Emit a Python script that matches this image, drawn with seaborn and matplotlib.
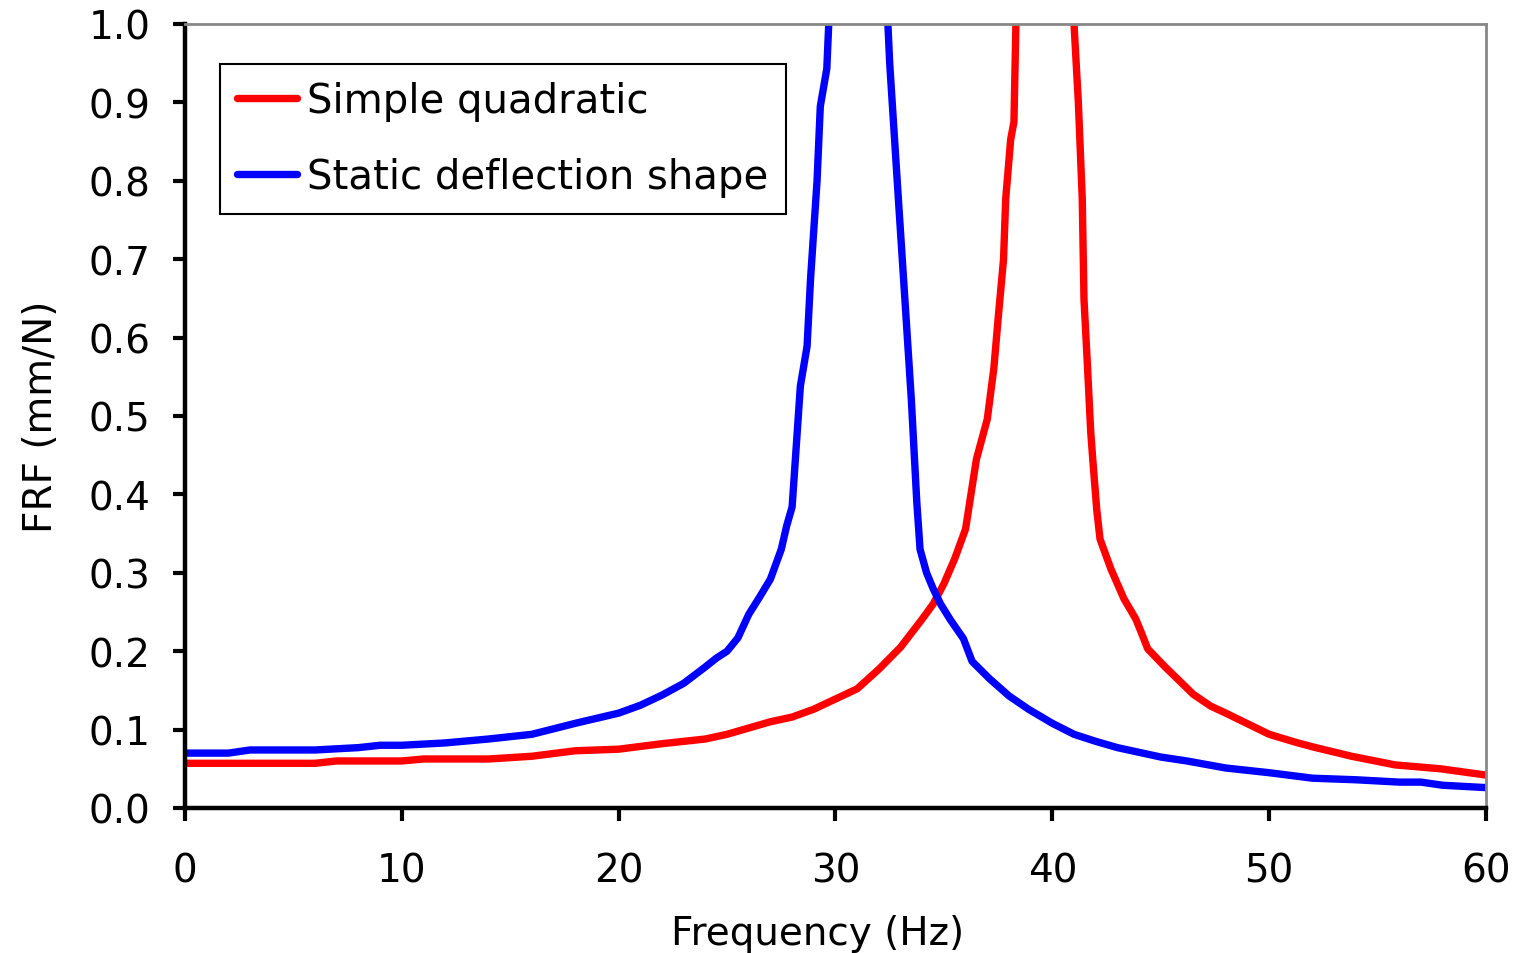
import pandas as pd
import matplotlib
matplotlib.use("Agg")
import matplotlib.pyplot as plt
import seaborn as sns

# Simple quadratic FRF
freq_quad = [0, 6, 7, 10, 11, 14, 16, 18, 20, 22, 24, 25, 26, 27, 28, 29, 30, 31, 32, 33,
             34, 34.5, 35, 35.5, 36, 36.5, 37, 37.3, 37.5, 37.75, 37.85, 38.08, 38.23, 38.5,
             39, 39.5, 40, 40.5, 41, 41.2, 41.38, 41.46, 41.62, 41.77, 41.9, 42.05, 42.2,
             42.7, 43.3, 43.85, 44.1, 44.4, 45.2, 46.5, 47.3, 48, 50, 51.2, 52, 53.8, 55.8,
             57.9, 60]
frf_quad = [0.057, 0.057, 0.060, 0.060, 0.0625, 0.0625, 0.066, 0.073, 0.075, 0.082, 0.088,
            0.094, 0.102, 0.110, 0.116, 0.126, 0.139, 0.152, 0.177, 0.205, 0.241, 0.26,
            0.286, 0.318, 0.356, 0.445, 0.496, 0.56, 0.624, 0.70, 0.777, 0.853, 0.875, 1.25,
            2.5, 5.0, 3.0, 2.0, 1.0, 0.90, 0.777, 0.649, 0.564, 0.48, 0.432, 0.38, 0.343,
            0.305, 0.267, 0.241, 0.224, 0.203, 0.18, 0.145, 0.130, 0.121, 0.094, 0.084,
            0.078, 0.066, 0.055, 0.050, 0.042]

# Static deflection shape FRF
freq_static = [0, 2, 3, 6, 8, 9, 10, 12, 14, 16, 18, 20, 21, 22, 23, 24, 24.5, 25, 25.5, 26,
               26.5, 27, 27.5, 27.75, 28, 28.38, 28.69, 28.85, 29.15, 29.3, 29.6, 30, 31, 32,
               32.5, 32.9, 33.2, 33.5, 33.75, 33.9, 34.2, 34.5, 34.85, 35.3, 35.9, 36.3, 37.1,
               38, 38.9, 40, 41, 42, 43, 45, 46.2, 48, 50, 52, 54, 56, 57, 58, 60]
frf_static = [0.070, 0.070, 0.074, 0.074, 0.077, 0.080, 0.080, 0.083, 0.088, 0.094, 0.108,
              0.121, 0.131, 0.144, 0.159, 0.180, 0.191, 0.200, 0.217, 0.247, 0.269, 0.292,
              0.33, 0.36, 0.384, 0.538, 0.589, 0.675, 0.80, 0.895, 0.943, 1.2, 3.0, 1.25,
              0.95, 0.777, 0.649, 0.52, 0.39, 0.33, 0.30, 0.28, 0.26, 0.24, 0.216, 0.187,
              0.165, 0.143, 0.126, 0.108, 0.094, 0.085, 0.077, 0.065, 0.060, 0.051, 0.045,
              0.038, 0.036, 0.033, 0.033, 0.029, 0.026]

series_names = ["Simple quadratic", "Static deflection shape"]
series_colors = ["#ff0000", "#0000ff"]

x_ticks = [0, 10, 20, 30, 40, 50, 60]
y_ticks = [0.0, 0.1, 0.2, 0.3, 0.4, 0.5, 0.6, 0.7, 0.8, 0.9, 1.0]

df = pd.concat([
    pd.DataFrame({"freq": freq_quad, "frf": frf_quad, "model": series_names[0]}),
    pd.DataFrame({"freq": freq_static, "frf": frf_static, "model": series_names[1]}),
], ignore_index=True)

sns.set_style("ticks")
plt.rcParams["font.family"] = ["DejaVu Sans"]
plt.rcParams["text.color"] = "black"
plt.rcParams["axes.labelcolor"] = "black"
plt.rcParams["xtick.color"] = "black"
plt.rcParams["ytick.color"] = "black"

FS = 28

fig = plt.figure(figsize=(15.21, 9.54), dpi=100)
ax = fig.add_axes([0.1216, 0.152, 0.8554, 0.8218])

sns.lineplot(data=df, x="freq", y="frf", hue="model", hue_order=series_names,
             palette=dict(zip(series_names, series_colors)), estimator=None,
             linewidth=5.3, ax=ax)

ax.set_xlim(0, 60)
ax.set_ylim(0, 1.0)
ax.set_xticks(x_ticks)
ax.set_yticks(y_ticks)
ax.set_yticklabels([f"{v:.1f}" for v in y_ticks])

ax.set_xlabel("Frequency (Hz)", fontsize=FS, labelpad=18)
ax.set_ylabel("FRF (mm/N)", fontsize=FS, labelpad=20)
ax.xaxis.label.set_x(0.486)

ax.tick_params(axis="both", direction="out", length=9, width=3, labelsize=FS,
               color="black", labelcolor="black")
ax.tick_params(axis="x", pad=22)
ax.tick_params(axis="y", pad=16)

for side in ["left", "bottom"]:
    ax.spines[side].set_color("black")
    ax.spines[side].set_linewidth(3.2)
for side in ["top", "right"]:
    ax.spines[side].set_visible(True)
    ax.spines[side].set_color("#888888")
    ax.spines[side].set_linewidth(2)

leg = ax.legend(loc="upper left", bbox_to_anchor=(0.027, 0.949), borderaxespad=0,
                fontsize=29, frameon=True, fancybox=False, edgecolor="black",
                handlelength=1.5, handletextpad=0.25, labelspacing=0.9, borderpad=0.42)
leg.get_frame().set_linewidth(1.5)
leg.get_frame().set_alpha(1)
for t in leg.get_texts():
    t.set_color("black")

fig.savefig("out.png", dpi=100)
